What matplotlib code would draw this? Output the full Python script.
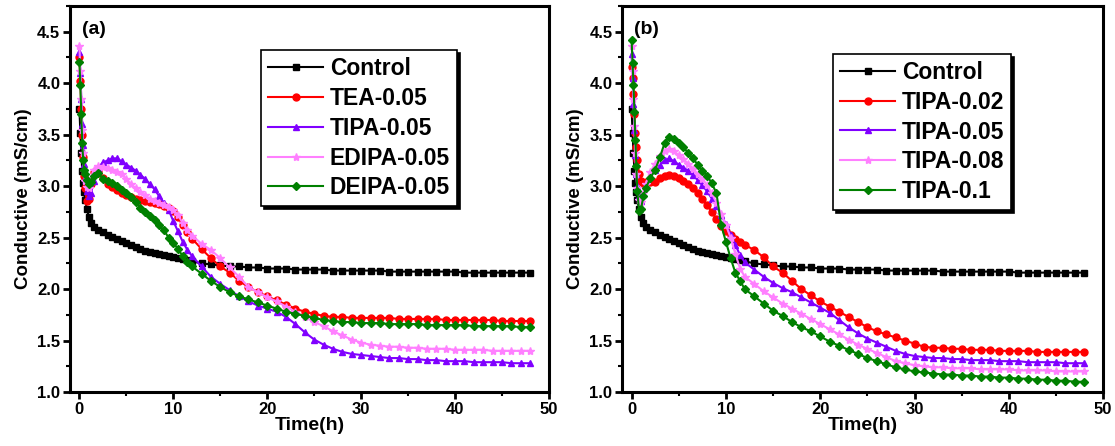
import matplotlib
matplotlib.use('Agg')
import matplotlib.pyplot as plt
from matplotlib.ticker import MultipleLocator

plt.rcParams['font.family'] = 'Liberation Sans'
plt.rcParams['font.weight'] = 'bold'
plt.rcParams['axes.labelweight'] = 'bold'

# sampling times (h), shared by every curve
time = [0, 0.1, 0.2, 0.3, 0.4, 0.5, 0.6, 0.8, 1, 1.25, 1.5,
        2, 2.5, 3, 3.5, 4, 4.5, 5, 5.5, 6, 6.5, 7, 7.5, 8, 8.5, 9, 9.5, 10, 10.5, 11, 11.5, 12,
        13, 14, 15, 16, 17, 18, 19, 20, 21, 22, 23, 24, 25, 26, 27, 28, 29, 30,
        31, 32, 33, 34, 35, 36, 37, 38, 39, 40, 41, 42, 43, 44, 45, 46, 47, 48]

control = [3.75, 3.52, 3.32, 3.15, 3.03, 2.94, 2.87, 2.78, 2.70, 2.64, 2.60,
           2.57, 2.55, 2.53, 2.51, 2.49, 2.47, 2.45, 2.43, 2.41, 2.39, 2.37, 2.36, 2.35, 2.34, 2.33,
           2.32, 2.31, 2.30, 2.29, 2.28, 2.27,
           2.25, 2.24, 2.23, 2.22, 2.22, 2.21, 2.21, 2.20, 2.20, 2.20, 2.19, 2.19, 2.19, 2.19, 2.18,
           2.18, 2.18, 2.18, 2.18, 2.18, 2.17, 2.17, 2.17, 2.17, 2.17, 2.17, 2.17, 2.17, 2.16, 2.16,
           2.16, 2.16, 2.16, 2.16, 2.16, 2.16]

# panel (a): different alkanolamines at 0.05
tea_005 = [4.25, 4.02, 3.75, 3.50, 3.28, 3.10, 2.98, 2.86, 2.88, 3.02, 3.14,
           3.15, 3.08, 3.02, 2.99, 2.96, 2.93, 2.91, 2.89, 2.88, 2.87, 2.86, 2.85, 2.84, 2.83, 2.81,
           2.79, 2.76, 2.70, 2.62, 2.55, 2.49,
           2.39, 2.30, 2.22, 2.16, 2.08, 2.02, 1.97, 1.93, 1.89, 1.85, 1.81, 1.78, 1.76, 1.74, 1.73,
           1.73, 1.72, 1.72, 1.72, 1.72, 1.72, 1.71, 1.71, 1.71, 1.71, 1.71, 1.70, 1.70, 1.70, 1.70,
           1.70, 1.70, 1.69, 1.69, 1.69, 1.69]
tipa_005 = [4.30, 4.10, 3.85, 3.60, 3.40, 3.22, 3.08, 2.95, 2.90, 2.93, 3.05,
            3.18, 3.23, 3.25, 3.27, 3.27, 3.24, 3.21, 3.18, 3.15, 3.11, 3.07, 3.02, 2.97, 2.90, 2.84,
            2.77, 2.66, 2.56, 2.46, 2.38, 2.32,
            2.22, 2.12, 2.05, 1.99, 1.93, 1.88, 1.84, 1.81, 1.78, 1.73, 1.66, 1.58, 1.51, 1.46, 1.42,
            1.39, 1.37, 1.36, 1.35, 1.34, 1.33, 1.33, 1.32, 1.32, 1.31, 1.31, 1.30, 1.30, 1.30, 1.29,
            1.29, 1.29, 1.29, 1.28, 1.28, 1.28]
edipa_005 = [4.36, 4.12, 3.85, 3.55, 3.32, 3.15, 3.05, 2.99, 2.98, 3.08, 3.16,
             3.20, 3.19, 3.18, 3.16, 3.14, 3.12, 3.07, 3.02, 2.98, 2.94, 2.91, 2.88, 2.86, 2.84, 2.82,
             2.80, 2.77, 2.72, 2.64, 2.57, 2.52,
             2.44, 2.38, 2.30, 2.21, 2.12, 2.02, 1.97, 1.92, 1.88, 1.83, 1.78, 1.73, 1.68, 1.64, 1.59,
             1.55, 1.51, 1.48, 1.46, 1.45, 1.44, 1.44, 1.43, 1.43, 1.42, 1.42, 1.42, 1.41, 1.41, 1.41,
             1.41, 1.40, 1.40, 1.40, 1.40, 1.40]
deipa_005 = [4.21, 3.98, 3.70, 3.42, 3.25, 3.16, 3.12, 3.06, 3.02, 3.04, 3.10,
             3.13, 3.07, 3.05, 3.03, 3.00, 2.96, 2.93, 2.89, 2.85, 2.79, 2.75, 2.71, 2.67, 2.62, 2.57,
             2.50, 2.45, 2.39, 2.32, 2.26, 2.22,
             2.15, 2.08, 2.02, 1.97, 1.93, 1.90, 1.87, 1.84, 1.81, 1.78, 1.76, 1.74, 1.72, 1.70, 1.69,
             1.68, 1.68, 1.67, 1.67, 1.67, 1.66, 1.66, 1.66, 1.66, 1.65, 1.65, 1.65, 1.65, 1.65, 1.64,
             1.64, 1.64, 1.64, 1.64, 1.63, 1.63]

# panel (b): TIPA dosage
tipa_002 = [4.16, 4.05, 3.90, 3.70, 3.52, 3.38, 3.25, 3.12, 3.05, 3.03, 3.04,
            3.04, 3.04, 3.08, 3.10, 3.11, 3.10, 3.08, 3.05, 3.02, 2.98, 2.93, 2.88, 2.82, 2.75, 2.68,
            2.61, 2.56, 2.53, 2.49, 2.46, 2.43,
            2.38, 2.31, 2.22, 2.16, 2.08, 2.00, 1.94, 1.88, 1.83, 1.78, 1.73, 1.68, 1.63, 1.59, 1.56,
            1.53, 1.50, 1.47, 1.44, 1.43, 1.43, 1.42, 1.42, 1.41, 1.41, 1.41, 1.40, 1.40, 1.40, 1.40,
            1.39, 1.39, 1.39, 1.39, 1.39, 1.39]
tipa_005b = [4.28, 4.05, 3.80, 3.55, 3.30, 3.12, 3.00, 2.90, 2.86, 2.92, 3.00,
             3.10, 3.16, 3.21, 3.25, 3.27, 3.24, 3.21, 3.18, 3.15, 3.11, 3.06, 3.01, 2.95, 2.88, 2.81,
             2.72, 2.63, 2.53, 2.43, 2.33, 2.26,
             2.19, 2.12, 2.06, 2.01, 1.97, 1.92, 1.87, 1.82, 1.77, 1.70, 1.63, 1.57, 1.52, 1.48, 1.44,
             1.40, 1.37, 1.35, 1.34, 1.33, 1.33, 1.32, 1.32, 1.31, 1.31, 1.31, 1.30, 1.30, 1.30, 1.29,
             1.29, 1.29, 1.29, 1.28, 1.28, 1.28]
tipa_008 = [4.36, 4.12, 3.85, 3.58, 3.32, 3.12, 2.98, 2.87, 2.85, 2.93, 3.02,
            3.14, 3.22, 3.29, 3.34, 3.36, 3.34, 3.30, 3.26, 3.22, 3.17, 3.12, 3.07, 3.01, 2.93, 2.84,
            2.73, 2.62, 2.50, 2.34, 2.20, 2.12,
            2.05, 1.98, 1.92, 1.86, 1.81, 1.76, 1.71, 1.66, 1.61, 1.56, 1.51, 1.46, 1.42, 1.38, 1.34,
            1.30, 1.28, 1.26, 1.25, 1.24, 1.24, 1.23, 1.23, 1.23, 1.22, 1.22, 1.22, 1.22, 1.21, 1.21,
            1.21, 1.21, 1.20, 1.20, 1.20, 1.20]
tipa_01 = [4.42, 4.20, 3.98, 3.72, 3.45, 3.20, 2.95, 2.76, 2.78, 2.90, 2.98,
           3.08, 3.16, 3.28, 3.42, 3.48, 3.46, 3.42, 3.38, 3.32, 3.27, 3.21, 3.15, 3.10, 3.03, 2.93,
           2.62, 2.46, 2.30, 2.16, 2.08, 2.00,
           1.93, 1.86, 1.79, 1.74, 1.68, 1.63, 1.59, 1.54, 1.49, 1.45, 1.41, 1.37, 1.33, 1.30, 1.27,
           1.24, 1.22, 1.20, 1.19, 1.18, 1.17, 1.17, 1.16, 1.16, 1.15, 1.15, 1.14, 1.14, 1.13, 1.13,
           1.12, 1.12, 1.11, 1.11, 1.10, 1.10]

colors = ['black', '#ff0000', '#8000ff', '#ff80ff', '#008000']
markers = ['s', 'o', '^', '*', 'D']
msizes = [4, 5, 5, 6, 4]

panels = [
    ('(a)', [control, tea_005, tipa_005, edipa_005, deipa_005],
     ['Control', 'TEA-0.05', 'TIPA-0.05', 'EDIPA-0.05', 'DEIPA-0.05'], (0.399, 0.886)),
    ('(b)', [control, tipa_002, tipa_005b, tipa_008, tipa_01],
     ['Control', 'TIPA-0.02', 'TIPA-0.05', 'TIPA-0.08', 'TIPA-0.1'], (0.439, 0.876)),
]
axes_rects = [[0.0628, 0.121, 0.4296, 0.8655], [0.558, 0.121, 0.4314, 0.8655]]

fig = plt.figure(figsize=(11.15, 4.46), dpi=100)

for rect, (tag, series, names, anchor) in zip(axes_rects, panels):
    ax = fig.add_axes(rect)
    for y, name, c, m, ms in zip(series, names, colors, markers, msizes):
        ax.plot(time, y, color=c, marker=m, markersize=ms, linewidth=1.5, label=name)
    ax.set_xlim(-1, 50)
    ax.set_ylim(1.0, 4.75)
    ax.xaxis.set_major_locator(MultipleLocator(10))
    ax.xaxis.set_minor_locator(MultipleLocator(5))
    ax.yaxis.set_minor_locator(MultipleLocator(0.25))
    ax.set_yticks([1.0, 1.5, 2.0, 2.5, 3.0, 3.5, 4.0, 4.5])
    ax.tick_params(which='major', direction='out', length=5, width=2, labelsize=12, pad=2)
    ax.tick_params(which='minor', direction='out', length=3, width=1.5)
    for sp in ax.spines.values():
        sp.set_linewidth(2.2)
    ax.set_xlabel('Time(h)', fontsize=14, labelpad=0)
    ax.set_ylabel('Conductive (mS/cm)', fontsize=13.5, labelpad=4)
    ax.text(0.025, 0.94, tag, transform=ax.transAxes, fontsize=14, ha='left', va='center')
    leg = ax.legend(loc='upper left', bbox_to_anchor=anchor, borderaxespad=0, fontsize=16.5,
                    frameon=True, fancybox=False, edgecolor='black', framealpha=1,
                    shadow={'color': 'black', 'alpha': 1}, handlelength=2.4, handletextpad=0.3,
                    labelspacing=0.3, borderpad=0.3)
    leg.get_frame().set_linewidth(1.2)

fig.savefig('out.png', dpi=100)
